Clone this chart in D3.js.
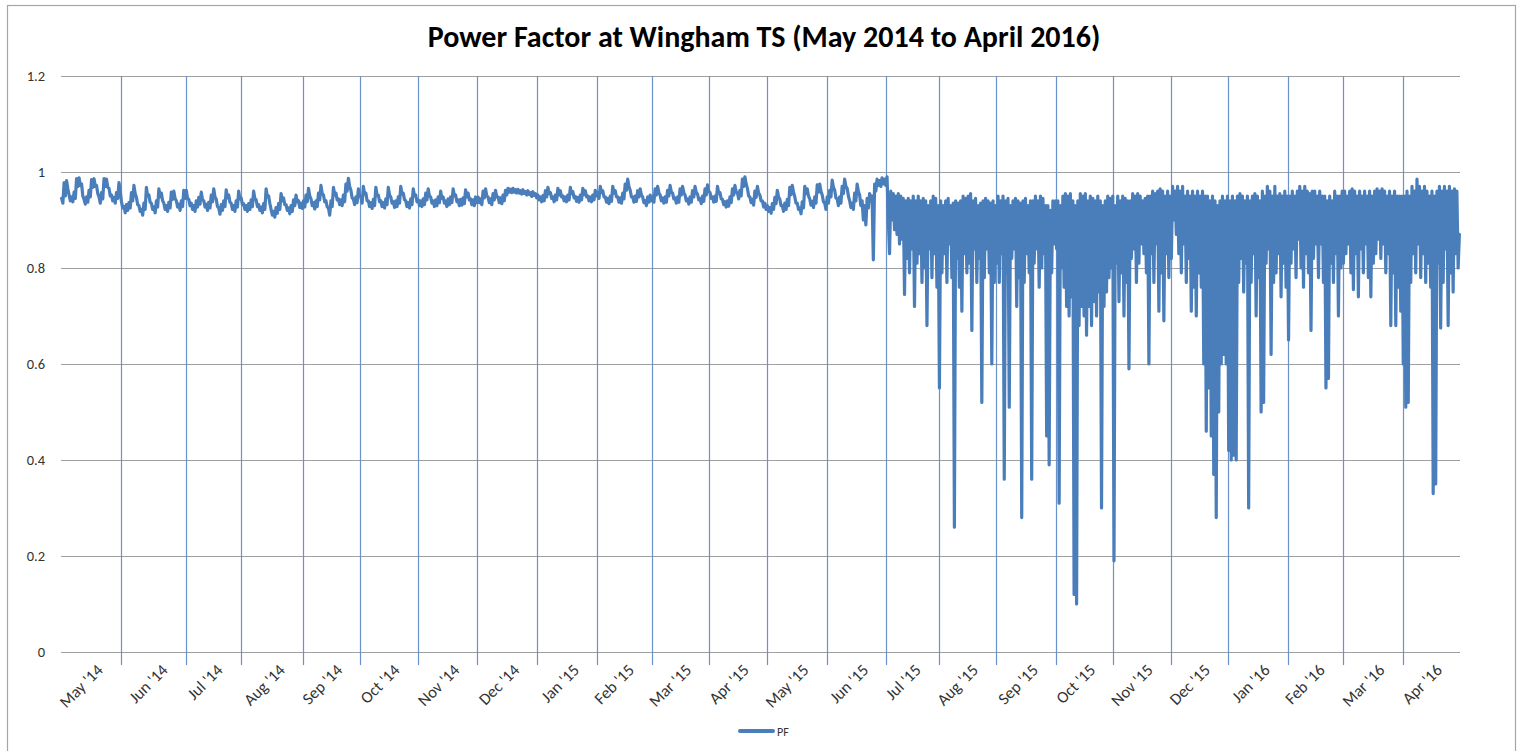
<!DOCTYPE html>
<html><head><meta charset="utf-8">
<script src="https://cdn.jsdelivr.net/npm/d3@7"></script>
<style>body{margin:0;background:#fff}svg{display:block}</style>
</head><body><svg id="chart" width="1530" height="751"></svg>
<script>
const chartTitle = "Power Factor at Wingham TS (May 2014 to April 2016)";
const seriesName = "PF";
const monthLabels = ["May '14","Jun '14","Jul '14","Aug '14","Sep '14","Oct '14","Nov '14","Dec '14",
  "Jan '15","Feb '15","Mar '15","Apr '15","May '15","Jun '15","Jul '15","Aug '15","Sep '15","Oct '15",
  "Nov '15","Dec '15","Jan '16","Feb '16","Mar '16","Apr '16"];
// number of readings (categories) that fall in each month
const monthSampleCounts = [48,52,44,50,46,46,48,48,48,44,46,46,48,48,42,46,48,46,46,46,48,44,48,46];
const yTicks = [0,0.2,0.4,0.6,0.8,1,1.2];
// power factor readings, in order (grouped by month)
const pf = [
  // May '14
  0.945,0.935,0.978,0.95,0.982,0.965,0.952,0.94,0.948,0.938,0.958,0.945,0.986,0.97,0.988,0.972,0.975,0.95,0.943,0.933,0.948,0.937,0.962,0.948,
  0.984,0.968,0.986,0.97,0.972,0.955,0.948,0.935,0.957,0.944,0.986,0.97,0.985,0.968,0.966,0.95,0.952,0.94,0.947,0.935,0.957,0.945,0.978,0.96,
  // Jun '14
  0.938,0.925,0.928,0.915,0.932,0.92,0.936,0.925,0.957,0.94,0.972,0.955,0.947,0.932,0.93,0.918,0.922,0.91,0.935,0.922,0.968,0.95,0.952,0.937,
  0.935,0.922,0.927,0.915,0.94,0.927,0.965,0.948,0.956,0.94,0.935,0.922,0.93,0.918,0.937,0.925,0.958,0.943,0.96,0.945,0.94,0.927,0.933,0.92,0.94,0.928,0.962,0.945,
  // Jul '14
  0.962,0.945,0.943,0.93,0.935,0.922,0.93,0.918,0.94,0.927,0.947,0.933,0.958,0.942,0.94,0.927,0.933,0.92,0.937,0.925,0.952,0.938,
  0.965,0.948,0.943,0.928,0.925,0.912,0.932,0.92,0.94,0.928,0.963,0.946,0.952,0.937,0.935,0.922,0.93,0.918,0.94,0.927,0.96,0.944,
  // Aug '14
  0.946,0.932,0.934,0.922,0.93,0.918,0.934,0.922,0.942,0.928,0.96,0.944,0.942,0.928,0.932,0.92,0.927,0.915,0.934,0.922,0.965,0.948,0.95,0.935,
  0.922,0.91,0.918,0.906,0.926,0.914,0.934,0.922,0.955,0.94,0.946,0.932,0.932,0.92,0.925,0.913,0.93,0.918,0.942,0.93,0.952,0.938,0.94,0.926,0.935,0.924,
  // Sep '14
  0.94,0.927,0.952,0.938,0.966,0.95,0.944,0.93,0.936,0.923,0.94,0.928,0.956,0.942,0.972,0.955,0.952,0.938,0.94,0.927,0.925,0.91,0.94,0.928,
  0.968,0.952,0.956,0.942,0.944,0.932,0.942,0.93,0.952,0.938,0.975,0.96,0.987,0.97,0.962,0.946,0.944,0.932,0.948,0.936,0.965,0.95,
  // Oct '14
  0.948,0.935,0.97,0.954,0.956,0.94,0.94,0.928,0.936,0.924,0.943,0.93,0.968,0.952,0.952,0.938,0.94,0.928,0.936,0.925,0.944,0.932,0.968,0.952,
  0.948,0.935,0.938,0.926,0.94,0.928,0.948,0.935,0.97,0.954,0.956,0.942,0.94,0.928,0.936,0.925,0.944,0.932,0.965,0.95,0.952,0.938,
  // Nov '14
  0.942,0.93,0.94,0.928,0.944,0.932,0.956,0.942,0.965,0.95,0.948,0.935,0.94,0.928,0.942,0.93,0.948,0.936,0.96,0.945,0.948,0.935,0.94,0.928,
  0.944,0.932,0.948,0.936,0.965,0.95,0.952,0.938,0.942,0.93,0.943,0.931,0.946,0.934,0.963,0.948,0.956,0.942,0.944,0.932,0.942,0.93,0.948,0.936,
  // Dec '14
  0.948,0.936,0.944,0.932,0.96,0.946,0.965,0.95,0.948,0.936,0.944,0.932,0.955,0.942,0.962,0.948,0.948,0.936,0.946,0.934,0.952,0.94,0.962,0.952,
  0.966,0.958,0.964,0.957,0.966,0.958,0.963,0.956,0.964,0.956,0.961,0.954,0.963,0.955,0.959,0.952,0.961,0.953,0.957,0.949,0.959,0.951,0.955,0.946,
  // Jan '15
  0.952,0.942,0.948,0.938,0.951,0.94,0.961,0.948,0.968,0.955,0.957,0.945,0.948,0.938,0.952,0.942,0.966,0.952,0.961,0.948,0.95,0.94,0.948,0.938,
  0.952,0.942,0.968,0.955,0.959,0.946,0.949,0.939,0.947,0.937,0.952,0.942,0.966,0.953,0.961,0.948,0.95,0.94,0.948,0.938,0.952,0.942,0.962,0.95,
  // Feb '15
  0.957,0.945,0.97,0.957,0.961,0.948,0.948,0.937,0.945,0.934,0.95,0.939,0.97,0.956,0.961,0.948,0.948,0.937,0.946,0.935,0.956,0.944,
  0.975,0.962,0.985,0.97,0.962,0.948,0.948,0.937,0.95,0.939,0.961,0.948,0.965,0.952,0.948,0.936,0.94,0.93,0.948,0.937,0.952,0.94,
  // Mar '15
  0.948,0.937,0.965,0.952,0.97,0.957,0.952,0.94,0.946,0.935,0.948,0.937,0.962,0.95,0.972,0.958,0.956,0.944,0.946,0.935,0.948,0.937,0.965,0.952,
  0.97,0.957,0.952,0.94,0.944,0.933,0.948,0.937,0.961,0.948,0.97,0.957,0.954,0.942,0.945,0.934,0.95,0.939,0.965,0.952,0.973,0.96,
  // Apr '15
  0.957,0.945,0.948,0.937,0.95,0.939,0.97,0.956,0.957,0.944,0.943,0.932,0.938,0.927,0.94,0.929,0.948,0.936,0.965,0.952,0.972,0.958,0.957,0.944,
  0.962,0.95,0.985,0.97,0.99,0.975,0.966,0.95,0.948,0.936,0.943,0.931,0.96,0.947,0.97,0.956,0.952,0.94,0.94,0.927,0.935,0.922,
  // May '15
  0.93,0.918,0.926,0.914,0.934,0.922,0.947,0.934,0.962,0.948,0.943,0.93,0.93,0.918,0.935,0.922,0.943,0.93,0.968,0.953,0.972,0.958,0.948,0.935,
  0.935,0.922,0.925,0.913,0.938,0.925,0.97,0.955,0.965,0.95,0.944,0.931,0.939,0.926,0.948,0.935,0.973,0.958,0.975,0.96,0.952,0.938,0.935,0.922,
  // Jun '15
  0.948,0.935,0.962,0.948,0.983,0.968,0.962,0.946,0.944,0.93,0.948,0.935,0.97,0.955,0.985,0.97,0.966,0.95,0.94,0.926,0.935,0.922,0.956,0.94,
  0.975,0.96,0.952,0.93,0.94,0.9,0.93,0.89,0.945,0.925,0.955,0.94,0.95,0.817,0.975,0.96,0.985,0.972,0.982,0.97,0.988,0.975,0.985,0.972,
  // Jul '15
  0.99,0.9,0.83,0.96,0.9,0.955,0.88,0.95,0.87,0.955,0.85,0.95,0.86,0.945,0.745,0.94,0.82,0.945,0.79,0.94,0.84,
  0.95,0.72,0.94,0.81,0.95,0.83,0.94,0.77,0.945,0.80,0.94,0.68,0.93,0.84,0.94,0.78,0.95,0.83,0.945,0.76,0.93,
  // Aug '15
  0.55,0.94,0.79,0.93,0.83,0.94,0.77,0.945,0.85,0.93,0.78,0.935,0.26,0.94,0.82,0.935,0.76,0.94,0.71,0.95,0.83,0.945,0.79,
  0.95,0.81,0.955,0.67,0.94,0.84,0.945,0.77,0.93,0.82,0.935,0.52,0.94,0.78,0.945,0.84,0.94,0.79,0.935,0.60,0.94,0.77,0.93,
  // Sep '15
  0.81,0.95,0.77,0.94,0.83,0.95,0.36,0.94,0.79,0.945,0.51,0.93,0.82,0.94,0.84,0.945,0.72,0.94,0.78,0.935,0.28,0.94,0.77,0.945,
  0.83,0.93,0.79,0.94,0.36,0.94,0.81,0.95,0.84,0.94,0.76,0.95,0.80,0.945,0.83,0.93,0.45,0.93,0.39,0.92,0.79,0.94,0.85,0.94,
  // Oct '15
  0.84,0.94,0.31,0.93,0.80,0.95,0.76,0.955,0.72,0.95,0.70,0.955,0.74,0.94,0.12,0.93,0.10,0.94,0.68,0.955,0.72,0.95,0.70,
  0.955,0.66,0.94,0.72,0.95,0.68,0.945,0.73,0.94,0.70,0.95,0.75,0.94,0.30,0.93,0.72,0.94,0.75,0.95,0.78,0.945,0.80,0.95,
  // Nov '15
  0.19,0.93,0.81,0.95,0.73,0.94,0.79,0.95,0.70,0.945,0.77,0.94,0.59,0.94,0.82,0.955,0.84,0.95,0.77,0.955,0.81,0.95,0.85,
  0.94,0.83,0.945,0.79,0.95,0.60,0.95,0.83,0.96,0.77,0.955,0.85,0.96,0.71,0.965,0.79,0.96,0.69,0.95,0.83,0.96,0.78,0.95,
  // Dec '15
  0.82,0.97,0.90,0.96,0.87,0.97,0.83,0.96,0.79,0.97,0.85,0.95,0.77,0.96,0.82,0.95,0.71,0.96,0.76,0.95,0.70,0.96,0.79,
  0.95,0.76,0.96,0.60,0.95,0.46,0.95,0.55,0.94,0.45,0.95,0.37,0.94,0.28,0.93,0.50,0.94,0.60,0.95,0.62,0.94,0.60,0.95,
  // Jan '16
  0.42,0.94,0.40,0.95,0.41,0.94,0.40,0.95,0.77,0.955,0.82,0.95,0.75,0.94,0.81,0.95,0.30,0.94,0.77,0.95,0.83,0.955,0.70,0.95,
  0.78,0.94,0.50,0.96,0.52,0.95,0.81,0.97,0.84,0.96,0.62,0.95,0.77,0.97,0.79,0.95,0.83,0.955,0.74,0.95,0.81,0.96,0.76,0.95,
  // Feb '16
  0.65,0.95,0.81,0.96,0.84,0.95,0.78,0.96,0.86,0.97,0.80,0.96,0.76,0.97,0.83,0.96,0.79,0.955,0.67,0.96,0.82,0.96,
  0.85,0.95,0.78,0.96,0.85,0.95,0.77,0.95,0.55,0.94,0.57,0.95,0.81,0.94,0.77,0.96,0.83,0.95,0.70,0.95,0.80,0.96,
  // Mar '16
  0.81,0.96,0.83,0.95,0.85,0.96,0.79,0.965,0.755,0.96,0.83,0.95,0.74,0.96,0.84,0.95,0.79,0.96,0.85,0.95,0.78,0.96,0.74,0.95,
  0.81,0.96,0.83,0.965,0.86,0.96,0.82,0.965,0.85,0.96,0.79,0.95,0.83,0.96,0.68,0.95,0.79,0.96,0.68,0.95,0.76,0.95,0.71,0.95,
  // Apr '16
  0.60,0.95,0.51,0.96,0.52,0.95,0.77,0.97,0.83,0.96,0.79,0.985,0.85,0.97,0.78,0.96,0.83,0.97,0.77,0.96,0.81,0.95,0.76,
  0.96,0.33,0.95,0.35,0.96,0.81,0.97,0.675,0.96,0.77,0.97,0.84,0.96,0.68,0.97,0.79,0.96,0.75,0.965,0.83,0.96,0.80,0.87
];

const font = "Carlito, Calibri, Lato, 'Open Sans', sans-serif";
const lineColor = "#4a7ebb";
const plot = {left: 61, right: 1460, top: 76, bottom: 652};

const svg = d3.select("#chart");
svg.append("rect").attr("x", 0).attr("y", 0).attr("width", 1530).attr("height", 751).attr("fill", "#fff");
svg.append("rect").attr("x", 7.5).attr("y", 5.5).attr("width", 1508).attr("height", 770)
  .attr("fill", "none").attr("stroke", "#a6a6a6").attr("stroke-width", 1.2);

const x = d3.scaleLinear().domain([-0.5, pf.length - 0.5]).range([plot.left, plot.right]);
const y = d3.scaleLinear().domain([0, 1.2]).range([plot.bottom, plot.top]);

// horizontal gridlines + y labels
const yAxis = d3.axisLeft(y).tickValues(yTicks).tickFormat(d3.format("~g"))
  .tickSize(-(plot.right - plot.left)).tickPadding(16);
const gy = svg.append("g").attr("transform", `translate(${plot.left},0)`).call(yAxis);
gy.select(".domain").remove();
gy.selectAll(".tick line").attr("stroke", "#a0a0a0").attr("stroke-width", 1);
gy.selectAll(".tick text").attr("fill", "#333").style("font-family", font).style("font-size", "14.5px");

// month boundaries
const monthEnds = Array.from(d3.cumsum(monthSampleCounts));
const boundaries = monthEnds.slice(0, -1);
svg.append("g").selectAll("line").data(boundaries).join("line")
  .attr("x1", d => Math.round(x(d - 0.5)) + 0.5).attr("x2", d => Math.round(x(d - 0.5)) + 0.5)
  .attr("y1", plot.top).attr("y2", plot.bottom + 13)
  .attr("stroke", "#6a93cc").attr("stroke-width", 1.2);

// month labels
svg.append("g").selectAll("text").data(monthLabels).join("text")
  .attr("transform", (d, i) => `translate(${x(monthEnds[i] - 0.5) - 21},667) rotate(-45)`)
  .attr("text-anchor", "end").attr("dy", "0.35em")
  .attr("fill", "#333").style("font-family", font).style("font-size", "16.5px")
  .text(d => d);

// series
const line = d3.line().x((d, i) => x(i)).y(d => y(d));
svg.append("path").datum(pf).attr("d", line)
  .attr("fill", "none").attr("stroke", lineColor).attr("stroke-width", 3.2)
  .attr("stroke-linejoin", "round").attr("stroke-linecap", "round");

// title
svg.append("text").attr("x", 764).attr("y", 47).attr("text-anchor", "middle")
  .style("font-family", font).style("font-size", "30px").style("font-weight", "bold")
  .attr("fill", "#000").text(chartTitle);

// legend
svg.append("line").attr("x1", 740).attr("x2", 773).attr("y1", 731).attr("y2", 731)
  .attr("stroke", lineColor).attr("stroke-width", 4).attr("stroke-linecap", "round");
svg.append("text").attr("x", 777).attr("y", 735.5).text(seriesName)
  .attr("fill", "#333").style("font-family", font).style("font-size", "12px");
</script></body></html>
